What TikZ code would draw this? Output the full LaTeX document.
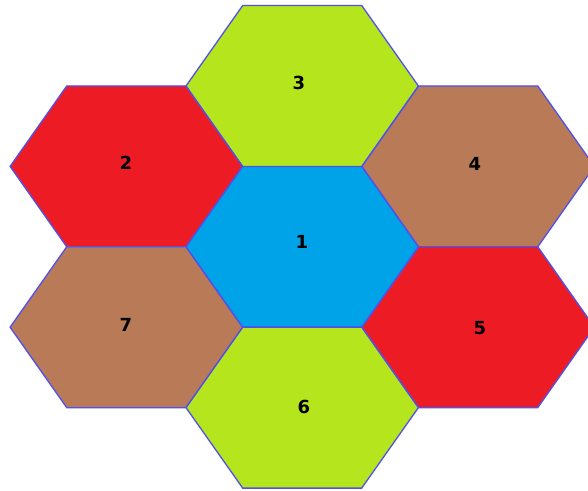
\documentclass[tikz,border=0pt]{standalone}
\usepackage{fontspec}
\setmainfont{DejaVu Sans}
\definecolor{hred}{RGB}{237,28,36}
\definecolor{hgreen}{RGB}{181,230,29}
\definecolor{hbrown}{RGB}{185,122,87}
\definecolor{hblue}{RGB}{0,162,232}
\definecolor{hline}{RGB}{80,80,235}
\begin{document}
\begin{tikzpicture}[x=1pt,y=-1pt,
  hexline/.style={draw=hline, line width=1.3pt, line join=miter},
  lbl/.style={font=\bfseries\fontsize{18}{18}\selectfont, text=black, inner sep=0pt}]
\useasboundingbox (0,0) rectangle (588,490);
\foreach \cx/\cy/\col in {302.2/246.8/hblue, 302.2/86/hgreen, 302.2/407.6/hgreen,
  126.3/166.4/hred, 126.3/327.2/hbrown, 478.2/166.4/hbrown, 478.2/327.2/hred}{
  \filldraw[hexline, fill=\col, shift={(\cx,\cy)}]
    (-116.2,0) -- (-59.5,-80.5) -- (59.5,-80.5) -- (116.2,0) -- (59.5,80.5) -- (-59.5,80.5) -- cycle;
}
\node[lbl] (n1) at (302,242) {1};
\node[lbl] (n2) at (126,163) {2};
\node[lbl] (n3) at (299,83) {3};
\node[lbl] (n4) at (475,164) {4};
\node[lbl] (n5) at (480,328) {5};
\node[lbl] (n6) at (304,407) {6};
\node[lbl] (n7) at (126,325) {7};
\end{tikzpicture}
\end{document}
